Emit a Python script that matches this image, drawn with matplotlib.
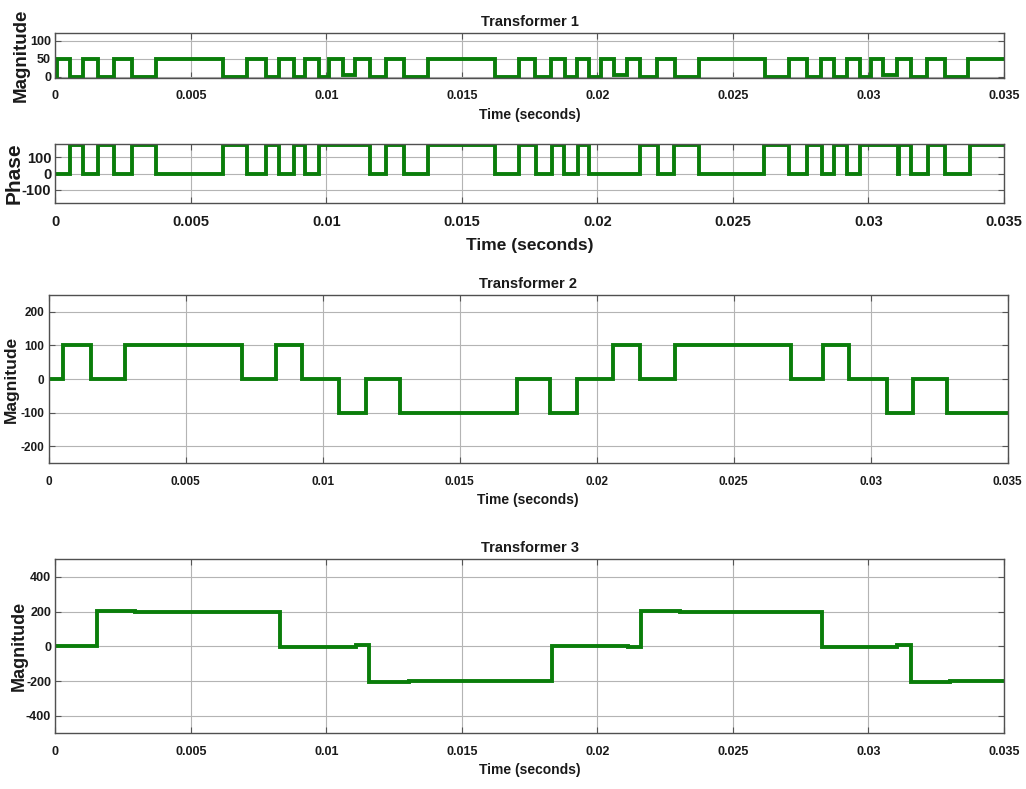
import numpy as np
import matplotlib
matplotlib.use('Agg')
import matplotlib.pyplot as plt
from matplotlib.transforms import blended_transform_factory

# switching instants (ms) and levels
t1_mag = [0, 0.05, 0.55, 1.03, 1.56, 2.15, 2.84, 3.72, 6.18, 7.06, 7.76, 8.25, 8.81, 9.23, 9.73,
          10.11, 10.62, 11.06, 11.61, 12.19, 12.88, 13.75, 16.22, 17.1, 17.69, 18.29, 18.81, 19.25,
          19.70, 20.14, 20.63, 21.08, 21.58, 22.19, 22.86, 23.75, 26.2, 27.06, 27.73, 28.26, 28.73,
          29.20, 29.67, 30.09, 30.55, 31.06, 31.56, 32.16, 32.83, 33.69]
v1_mag = [0, 50, 0, 50, 0, 50, 0, 50, 0, 50, 0, 50, 0, 50, 0,
          50, 5, 50, 0, 50, 0, 50, 0, 50, 0, 50, 0, 50,
          0, 50, 5, 50, 0, 50, 0, 50, 0, 50, 0, 50, 0,
          50, 0, 50, 5, 50, 0, 50, 0, 50]

t1_phase = [0, 0.54, 1.03, 1.56, 2.15, 2.84, 3.72, 6.18, 7.06, 7.76, 8.25, 8.81, 9.23, 9.73,
            11.61, 12.19, 12.88, 13.75, 16.22, 17.09, 17.74, 18.32, 18.78, 19.28, 19.70, 21.58,
            22.25, 22.83, 23.75, 26.16, 27.06, 27.73, 28.28, 28.74, 29.20, 29.69, 31.10, 31.14,
            31.56, 32.18, 32.83, 33.73]
v1_phase = [0, 175, 0, 175, 0, 175, 0, 175, 0, 175, 0, 175, 0, 175,
            0, 175, 0, 175, 0, 175, 0, 175, 0, 175, 0, 175,
            0, 175, 0, 175, 0, 175, 0, 175, 0, 175, 0, 175,
            0, 175, 0, 175]

t2 = [0, 0.53, 1.54, 2.80, 7.04, 8.28, 9.23, 10.59, 11.59, 12.82, 17.10, 18.30, 19.27, 20.58,
      21.58, 22.86, 27.08, 28.27, 29.21, 30.58, 31.56, 32.80]
v2 = [0, 100, 0, 100, 0, 100, 0, -100, 0, -100, 0, -100, 0, 100,
      0, 100, 0, 100, 0, -100, 0, -100]

t3 = [0, 1.55, 2.94, 8.29, 11.10, 11.59, 13.06, 18.32, 21.14, 21.61, 23.05, 28.29, 31.05, 31.56, 33.0]
v3 = [0, 205, 197, -2, 5, -205, -197, 3, -3, 205, 197, -2, 5, -205, -197]

t_end = 35.0
xticks = [0, 0.005, 0.01, 0.015, 0.02, 0.025, 0.03, 0.035]
xticklabels = ['0', '0.005', '0.01', '0.015', '0.02', '0.025', '0.03', '0.035']

green = '#0a7d0a'
txt = '#1a1a1a'
narrow = ['Liberation Sans Narrow', 'Liberation Sans', 'DejaVu Sans']
wide = ['Liberation Sans', 'DejaVu Sans']

W, H = 1026, 789
fig = plt.figure(figsize=(W / 100, H / 100), dpi=100)


def box(l, t, r, b):
    return [l / W, 1 - b / H, (r - l) / W, (b - t) / H]


def trace(ax, t, v):
    x = np.array(list(t) + [t_end]) / 1000.0
    y = list(v) + [v[-1]]
    ax.step(x, y, where='post', color=green, lw=2.8, solid_joinstyle='miter')


def style(ax, ylim, yticks, title, ylabel, fs_tick, fs_xlab, fs_ylab, ylab_x, xlab_pad):
    ax.set_xlim(0, 0.035)
    ax.set_ylim(*ylim)
    ax.set_xticks(xticks)
    ax.set_yticks(yticks)
    ax.set_xticklabels(xticklabels, family=narrow, fontweight='bold', fontsize=fs_tick, color=txt)
    ax.set_yticklabels([str(v) for v in yticks], family=narrow, fontweight='bold', fontsize=fs_tick, color=txt)
    ax.grid(True, color='#b4b4b4', lw=0.8)
    ax.set_axisbelow(True)
    ax.tick_params(direction='in', top=True, right=True, length=4, width=0.8, color='#555555')
    ax.tick_params(axis='x', pad=9)
    ax.tick_params(axis='y', pad=3)
    for s in ax.spines.values():
        s.set_color('#505050')
        s.set_linewidth(1.0)
    if title:
        ax.set_title(title, family=narrow, fontweight='bold', fontsize=10.5, color=txt, pad=5)
    ax.set_xlabel('Time (seconds)', family=narrow, fontweight='bold', fontsize=fs_xlab, color=txt,
                  labelpad=xlab_pad)
    ax.set_ylabel(ylabel, family=wide, fontweight='bold', fontsize=fs_ylab, color=txt)
    # x is where the right edge of the rotated label sits (figure px)
    ax.yaxis.set_label_coords(ylab_x / W, 0.5,
                              transform=blended_transform_factory(fig.transFigure, ax.transAxes))


ax1 = fig.add_axes(box(55.3, 33.3, 1004, 77.7))
trace(ax1, t1_mag, v1_mag)
style(ax1, (-3, 120), [0, 50, 100], 'Transformer 1', 'Magnitude', 9, 10, 13.5, 30, 4)

ax2 = fig.add_axes(box(55.3, 144.3, 1004, 202.7))
trace(ax2, t1_phase, v1_phase)
style(ax2, (-180, 180), [-100, 0, 100], None, 'Phase', 10.5, 12.5, 15, 24, 6)

ax3 = fig.add_axes(box(48.7, 295, 1007.7, 463.3))
trace(ax3, t2, v2)
style(ax3, (-250, 250), [-200, -100, 0, 100, 200], 'Transformer 2', 'Magnitude', 8.5, 10, 12.5, 19, 4)

ax4 = fig.add_axes(box(55.3, 559.3, 1004, 733.3))
trace(ax4, t3, v3)
style(ax4, (-500, 500), [-400, -200, 0, 200, 400], 'Transformer 3', 'Magnitude', 9, 10, 13, 28, 4)

fig.savefig('out.png', dpi=100, facecolor='white')
